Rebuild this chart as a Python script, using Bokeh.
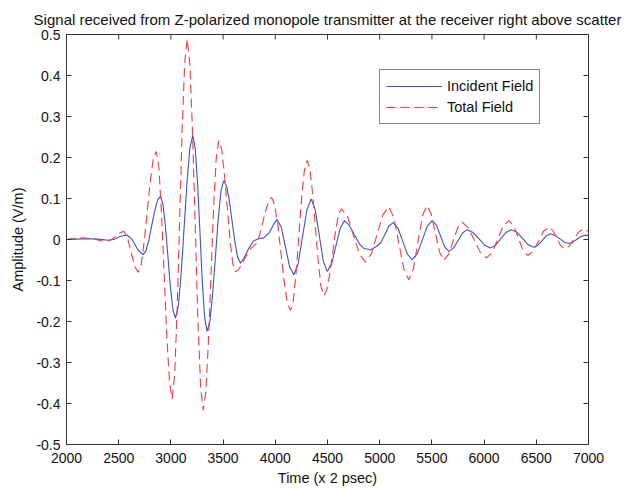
import math
from bokeh.plotting import figure
from bokeh.models import FixedTicker, Legend, LegendItem, Range1d
from bokeh.embed import file_html
from bokeh.resources import INLINE

# ---- data ----
time_incident = [2000, 2100, 2200, 2300, 2400, 2460, 2521, 2581, 2632, 2683, 2734,
                 2762, 2789, 2817, 2845, 2872, 2900, 2924, 2948, 2972, 2996, 3020, 3044,
                 3072, 3099, 3127, 3155, 3182, 3210, 3233, 3256, 3279, 3301, 3324, 3347,
                 3374, 3400, 3427, 3454, 3480, 3507, 3534, 3560, 3587, 3614, 3640, 3667,
                 3700, 3747, 3794, 3840, 3890, 3940, 3980, 4018, 4058, 4098, 4137, 4177,
                 4219, 4261, 4302, 4344, 4382, 4421, 4459, 4497, 4539, 4580, 4622, 4663,
                 4710, 4760, 4810, 4850, 4912, 4970, 5010, 5050, 5089, 5129, 5175, 5220,
                 5266, 5311, 5359, 5407, 5455, 5503, 5543, 5582, 5622, 5662, 5706, 5750,
                 5794, 5838, 5894, 5950, 6005, 6061, 6110, 6160, 6209, 6259, 6313, 6368,
                 6422, 6476, 6516, 6556, 6596, 6636, 6680, 6724, 6767, 6811, 6848, 6886,
                 6923, 6960, 7000]
amp_incident = [0.000, 0.001, 0.002, 0.001, -0.002, 0.001, 0.008, 0.011, -0.001, -0.025, -0.037,
                -0.027, -0.001, 0.035, 0.070, 0.096, 0.106, 0.086, 0.032, -0.043, -0.118, -0.172, -0.192,
                -0.162, -0.081, 0.031, 0.143, 0.224, 0.254, 0.222, 0.135, 0.015, -0.105, -0.192, -0.224,
                -0.199, -0.132, -0.040, 0.052, 0.119, 0.144, 0.130, 0.094, 0.043, -0.008, -0.044, -0.058,
                -0.045, -0.021, -0.003, 0.002, 0.004, 0.016, 0.035, 0.049, 0.029, -0.019, -0.066, -0.086,
                -0.059, 0.007, 0.072, 0.099, 0.073, 0.011, -0.052, -0.078, -0.060, -0.016, 0.028, 0.046,
                0.034, 0.010, -0.012, -0.022, -0.025, -0.017, -0.008, 0.012, 0.033, 0.041, 0.028, -0.004,
                -0.036, -0.049, -0.035, -0.002, 0.032, 0.046, 0.035, 0.009, -0.018, -0.029, -0.021, -0.003,
                0.016, 0.024, 0.017, 0.002, -0.014, -0.021, -0.014, 0.002, 0.017, 0.024, 0.018, 0.003,
                -0.013, -0.019, -0.014, -0.003, 0.009, 0.014, 0.010, 0.002, -0.006, -0.010, -0.007, 0.000,
                0.007, 0.010, 0.010]

time_total = [2000, 2080, 2150, 2250, 2330, 2390, 2443, 2496, 2549, 2584, 2618, 2653, 2687,
              2716, 2744, 2773, 2802, 2830, 2859, 2885, 2910, 2936, 2961, 2987, 3012,
              3036, 3060, 3084, 3108, 3132, 3156, 3182, 3207, 3233, 3258, 3284, 3309,
              3334, 3359, 3384, 3409, 3434, 3459, 3486, 3512, 3539, 3566, 3592, 3619,
              3650, 3700, 3762, 3826, 3865, 3900, 3935, 3964, 3994, 4025, 4055, 4085, 4116, 4146,
              4173, 4199, 4226, 4252, 4279, 4305, 4332, 4358, 4385, 4412, 4438, 4465,
              4493, 4521, 4550, 4578, 4606, 4634, 4692, 4749, 4807, 4864, 4920, 4976, 5031, 5087,
              5135, 5183, 5231, 5279, 5322, 5366, 5409, 5452, 5493, 5533, 5574, 5614,
              5658, 5702, 5746, 5790, 5848, 5907, 5965, 6023, 6077, 6130, 6184, 6237,
              6283, 6328, 6374, 6419, 6469, 6520, 6570, 6620, 6658, 6695, 6733, 6770,
              6816, 6863, 6909, 6955, 7000]
amp_total = [0.000, 0.003, 0.004, 0.002, -0.003, -0.005, 0.001, 0.014, 0.020, 0.005, -0.030, -0.065, -0.080,
             -0.060, -0.006, 0.068, 0.141, 0.195, 0.215, 0.175, 0.064, -0.087, -0.238, -0.349, -0.389,
             -0.330, -0.170, 0.050, 0.270, 0.430, 0.489, 0.428, 0.263, 0.036, -0.191, -0.356, -0.417,
             -0.373, -0.253, -0.088, 0.077, 0.197, 0.241, 0.220, 0.161, 0.081, 0.001, -0.058, -0.079,
             -0.073, -0.050, -0.023, -0.008, 0.025, 0.063, 0.092, 0.103, 0.085, 0.034, -0.035, -0.104, -0.155, -0.173,
             -0.149, -0.082, 0.010, 0.102, 0.169, 0.193, 0.171, 0.111, 0.028, -0.055, -0.115, -0.137,
             -0.123, -0.084, -0.031, 0.022, 0.061, 0.075, 0.056, 0.010, -0.036, -0.055, -0.035, 0.013, 0.060, 0.080,
             0.054, -0.009, -0.072, -0.098, -0.072, -0.008, 0.057, 0.083, 0.063, 0.016, -0.031, -0.051,
             -0.037, -0.005, 0.028, 0.042, 0.029, -0.002, -0.032, -0.045, -0.032, 0.001, 0.033, 0.046,
             0.034, 0.004, -0.027, -0.039, -0.029, -0.005, 0.020, 0.030, 0.022, 0.004, -0.015, -0.023,
             -0.016, 0.002, 0.019, 0.026, 0.020]

x_ticks = [2000, 2500, 3000, 3500, 4000, 4500, 5000, 5500, 6000, 6500, 7000]
y_ticks = [-0.5, -0.4, -0.3, -0.2, -0.1, 0, 0.1, 0.2, 0.3, 0.4, 0.5]
y_tick_labels = ["-0.5", "-0.4", "-0.3", "-0.2", "-0.1", "0", "0.1", "0.2", "0.3", "0.4", "0.5"]

series_names = ["Incident Field", "Total Field"]
title_text = "Signal received from Z-polarized monopole transmitter at the receiver right above scatter"

FONT = "Liberation Sans"
AX = "#333333"
TXT = "#111111"

p = figure(frame_width=522, frame_height=410, output_backend="svg", toolbar_location=None,
           x_range=Range1d(x_ticks[0], x_ticks[-1]), y_range=Range1d(y_ticks[0], y_ticks[-1]),
           min_border_left=66, min_border_right=41, min_border_top=34, min_border_bottom=45,
           title=title_text)
p.background_fill_color = "white"
p.border_fill_color = "white"
p.grid.visible = False
p.outline_line_color = AX
p.outline_line_width = 1

p.title.text_font = FONT
p.title.text_font_size = "15px"
p.title.text_font_style = "normal"
p.title.align = "center"
p.title.text_color = TXT
p.title.standoff = 13

def style_axis(ax):
    ax.axis_line_color = AX
    ax.major_tick_line_color = AX
    ax.major_tick_in = 5
    ax.major_tick_out = 0
    ax.minor_tick_line_color = None
    ax.major_label_text_font = FONT
    ax.major_label_text_font_size = "14px"
    ax.major_label_text_color = TXT
    ax.axis_label_text_font = FONT
    ax.axis_label_text_font_size = "14.5px"
    ax.axis_label_text_font_style = "normal"
    ax.axis_label_text_color = TXT

xa = p.xaxis[0]
xa.ticker = FixedTicker(ticks=x_ticks)
xa.axis_label = "Time (x 2 psec)"
xa.major_label_standoff = 8
xa.axis_label_standoff = 4
style_axis(xa)

ya = p.yaxis[0]
ya.ticker = FixedTicker(ticks=y_ticks)
ya.major_label_overrides = {t: s for t, s in zip(y_ticks, y_tick_labels)}
ya.axis_label = "Amplitude (V/m)"
ya.major_label_standoff = 6
ya.axis_label_standoff = 7
style_axis(ya)

# inward ticks on the top and right edges of the box (MATLAB style)
p.ray(x=x_ticks, y=[y_ticks[-1]] * len(x_ticks), length=5, length_units="screen",
      angle=-math.pi / 2, line_color=AX, line_width=1)
p.ray(x=[x_ticks[-1]] * len(y_ticks), y=y_ticks, length=5, length_units="screen",
      angle=math.pi, line_color=AX, line_width=1)

r_inc = p.line(time_incident, amp_incident, line_color="#3f52c4", line_width=1.1)
r_tot = p.line(time_total, amp_total, line_color="#f53b3b", line_width=1.1, line_dash="9 5")

legend = Legend(items=[LegendItem(label=series_names[0], renderers=[r_inc]),
                       LegendItem(label=series_names[1], renderers=[r_tot])],
                location=(313, 320), orientation="vertical")
legend.border_line_color = TXT
legend.border_line_width = 1
legend.background_fill_color = "white"
legend.background_fill_alpha = 1
legend.label_text_font = FONT
legend.label_text_font_size = "14.5px"
legend.label_text_color = TXT
legend.glyph_width = 56
legend.glyph_height = 20
legend.label_height = 20
legend.label_standoff = 5
legend.padding = 6
legend.spacing = 1
legend.margin = 0
p.add_layout(legend, "center")

open("out.html", "w").write(file_html(p, INLINE))
